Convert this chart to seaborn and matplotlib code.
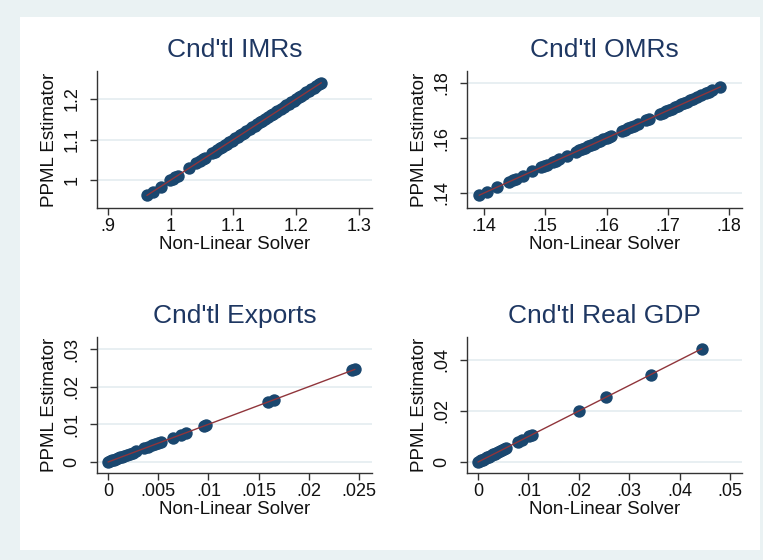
import matplotlib
matplotlib.use("Agg")
import matplotlib.pyplot as plt
import seaborn as sns
import pandas as pd

sns.set_theme(style="white")
plt.rcParams['font.family'] = ['Liberation Sans', 'DejaVu Sans']

# ---- data ----
titles = ["Cnd'tl IMRs", "Cnd'tl OMRs", "Cnd'tl Exports", "Cnd'tl Real GDP"]

imr_solver = [0.962, 0.971, 0.984, 0.999, 1.003, 1.007, 1.011, 1.029, 1.041, 1.047, 1.051,
              1.054, 1.066, 1.070, 1.074, 1.078, 1.082, 1.086, 1.090, 1.093, 1.097, 1.100,
              1.103, 1.107, 1.110, 1.113, 1.117, 1.120, 1.126, 1.130, 1.134, 1.138, 1.142,
              1.146, 1.150, 1.155, 1.160, 1.163, 1.167, 1.170, 1.175, 1.180, 1.184, 1.188,
              1.192, 1.196, 1.200, 1.204, 1.208, 1.212, 1.216, 1.220, 1.224, 1.228, 1.232,
              1.236, 1.240]
imr_ppml = [0.962, 0.971, 0.984, 0.999, 1.003, 1.007, 1.011, 1.029, 1.041, 1.047, 1.051,
            1.054, 1.066, 1.070, 1.074, 1.078, 1.082, 1.086, 1.090, 1.093, 1.097, 1.100,
            1.103, 1.107, 1.110, 1.113, 1.117, 1.120, 1.126, 1.130, 1.134, 1.138, 1.142,
            1.146, 1.150, 1.155, 1.160, 1.163, 1.167, 1.170, 1.175, 1.180, 1.184, 1.188,
            1.192, 1.196, 1.200, 1.204, 1.208, 1.212, 1.216, 1.220, 1.224, 1.228, 1.232,
            1.236, 1.240]

omr_solver = [0.1392, 0.1405, 0.1421, 0.1441, 0.1447, 0.1452, 0.1463, 0.1479, 0.1493, 0.1498,
              0.1503, 0.1512, 0.1517, 0.1522, 0.1535, 0.1550, 0.1555, 0.1560, 0.1565, 0.1570,
              0.1575, 0.1580, 0.1585, 0.1590, 0.1595, 0.1600, 0.1604, 0.1608, 0.1625, 0.1630,
              0.1635, 0.1640, 0.1645, 0.1652, 0.1665, 0.1670, 0.1688, 0.1692, 0.1697, 0.1702,
              0.1707, 0.1712, 0.1717, 0.1722, 0.1727, 0.1732, 0.1737, 0.1742, 0.1748, 0.1755,
              0.1762, 0.1768, 0.1773, 0.1786]
omr_ppml = [0.1392, 0.1405, 0.1421, 0.1441, 0.1447, 0.1452, 0.1463, 0.1479, 0.1493, 0.1498,
            0.1503, 0.1512, 0.1517, 0.1522, 0.1535, 0.1550, 0.1555, 0.1560, 0.1565, 0.1570,
            0.1575, 0.1580, 0.1585, 0.1590, 0.1595, 0.1600, 0.1604, 0.1608, 0.1625, 0.1630,
            0.1635, 0.1640, 0.1645, 0.1652, 0.1665, 0.1670, 0.1688, 0.1692, 0.1697, 0.1702,
            0.1707, 0.1712, 0.1717, 0.1722, 0.1727, 0.1732, 0.1737, 0.1742, 0.1748, 0.1755,
            0.1762, 0.1768, 0.1773, 0.1786]

exp_solver = [0.0000, 0.0002, 0.0004, 0.0006, 0.0008, 0.0010, 0.0012, 0.0014, 0.0016, 0.0019,
              0.0022, 0.0025, 0.0028, 0.0036, 0.0040, 0.0044, 0.0047, 0.0050, 0.0053,
              0.0065, 0.0073, 0.0078, 0.0096, 0.0098, 0.0159, 0.0165, 0.0243, 0.0246]
exp_ppml = [0.0000, 0.0002, 0.0004, 0.0006, 0.0008, 0.0010, 0.0012, 0.0014, 0.0016, 0.0019,
            0.0022, 0.0025, 0.0028, 0.0036, 0.0040, 0.0044, 0.0047, 0.0050, 0.0053,
            0.0065, 0.0073, 0.0078, 0.0096, 0.0098, 0.0159, 0.0165, 0.0243, 0.0246]

gdp_solver = [0.0000, 0.0003, 0.0006, 0.0009, 0.0012, 0.0015, 0.0018, 0.0021, 0.0024, 0.0027,
              0.0030, 0.0033, 0.0036, 0.0040, 0.0044, 0.0048, 0.0052, 0.0056,
              0.0079, 0.0087, 0.0102, 0.0107, 0.0201, 0.0253, 0.0343, 0.0444]
gdp_ppml = [0.0000, 0.0003, 0.0006, 0.0009, 0.0012, 0.0015, 0.0018, 0.0021, 0.0024, 0.0027,
            0.0030, 0.0033, 0.0036, 0.0040, 0.0044, 0.0048, 0.0052, 0.0056,
            0.0079, 0.0087, 0.0102, 0.0107, 0.0201, 0.0253, 0.0343, 0.0444]

xticks = [[0.9, 1.0, 1.1, 1.2, 1.3], [0.14, 0.15, 0.16, 0.17, 0.18],
          [0, 0.005, 0.01, 0.015, 0.02, 0.025], [0, 0.01, 0.02, 0.03, 0.04, 0.05]]
xticklabels = [[".9", "1", "1.1", "1.2", "1.3"], [".14", ".15", ".16", ".17", ".18"],
               ["0", ".005", ".01", ".015", ".02", ".025"], ["0", ".01", ".02", ".03", ".04", ".05"]]
yticks = [[1.0, 1.1, 1.2], [0.14, 0.16, 0.18], [0, 0.01, 0.02, 0.03], [0, 0.02, 0.04]]
yticklabels = [["1", "1.1", "1.2"], [".14", ".16", ".18"], ["0", ".01", ".02", ".03"], ["0", ".02", ".04"]]
xlims = [(0.8825, 1.3207), (0.13722, 0.18212), (-0.0011, 0.0263), (-0.00218, 0.05238)]
ylims = [(0.931, 1.269), (0.13455, 0.18436), (-0.00292, 0.03319), (-0.0043, 0.0490)]

solver = [imr_solver, omr_solver, exp_solver, gdp_solver]
ppml = [imr_ppml, omr_ppml, exp_ppml, gdp_ppml]

# ---- figure ----
W, H = 763, 560
OUTER = "#EAF2F3"
fig = plt.figure(figsize=(W / 100, H / 100), dpi=100)
fig.patch.set_facecolor(OUTER)

# white inner region
bg = fig.add_axes([20 / W, 1 - 550 / H, 740 / W, 533 / H], zorder=-10)
bg.set_facecolor("white")
bg.set_xticks([])
bg.set_yticks([])
for s in bg.spines.values():
    s.set_visible(False)

# axes boxes in pixels: left, top, right, bottom
boxes = [(97, 71, 372, 208), (467, 71, 742, 208), (97, 337, 372, 473), (467, 337, 742, 473)]

NAVY = "#1a476f"
MAROON = "#90353b"
TITLE_C = "#1e3762"

for i, (l, t, r, b) in enumerate(boxes):
    ax = fig.add_axes([l / W, 1 - b / H, (r - l) / W, (b - t) / H])
    ax.set_facecolor("none")
    df = pd.DataFrame({"solver": solver[i], "ppml": ppml[i]})
    sns.scatterplot(data=df, x="solver", y="ppml", ax=ax, color=NAVY, s=80,
                    linewidth=0, zorder=3)
    sns.lineplot(data=df, x="solver", y="solver", ax=ax, color=MAROON, lw=1.0,
                 zorder=4)
    ax.set_xlim(*xlims[i])
    ax.set_ylim(*ylims[i])
    ax.set_xticks(xticks[i])
    ax.set_xticklabels(xticklabels[i])
    ax.set_yticks(yticks[i])
    ax.set_yticklabels(yticklabels[i], rotation=90, va="center")
    ax.grid(axis="y", color="#E6EEF1", lw=1.3, zorder=0)
    ax.grid(axis="x", visible=False)
    for s in ["top", "right"]:
        ax.spines[s].set_visible(False)
    for s in ["left", "bottom"]:
        ax.spines[s].set_color("#333333")
        ax.spines[s].set_linewidth(1.0)
    ax.tick_params(axis="both", direction="out", length=5, width=1.0, color="#333333",
                   labelsize=13, labelcolor="#111111", bottom=True, left=True)
    ax.tick_params(axis="x", pad=2)
    ax.tick_params(axis="y", pad=7)
    ax.set_xlabel("Non-Linear Solver", fontsize=13.5, color="#111111", labelpad=1)
    ax.set_ylabel("PPML Estimator", fontsize=13.5, color="#111111", labelpad=4)
    ax.set_title(titles[i], fontsize=19, color=TITLE_C, pad=10)

fig.savefig("out.png", dpi=100, facecolor=fig.get_facecolor())
